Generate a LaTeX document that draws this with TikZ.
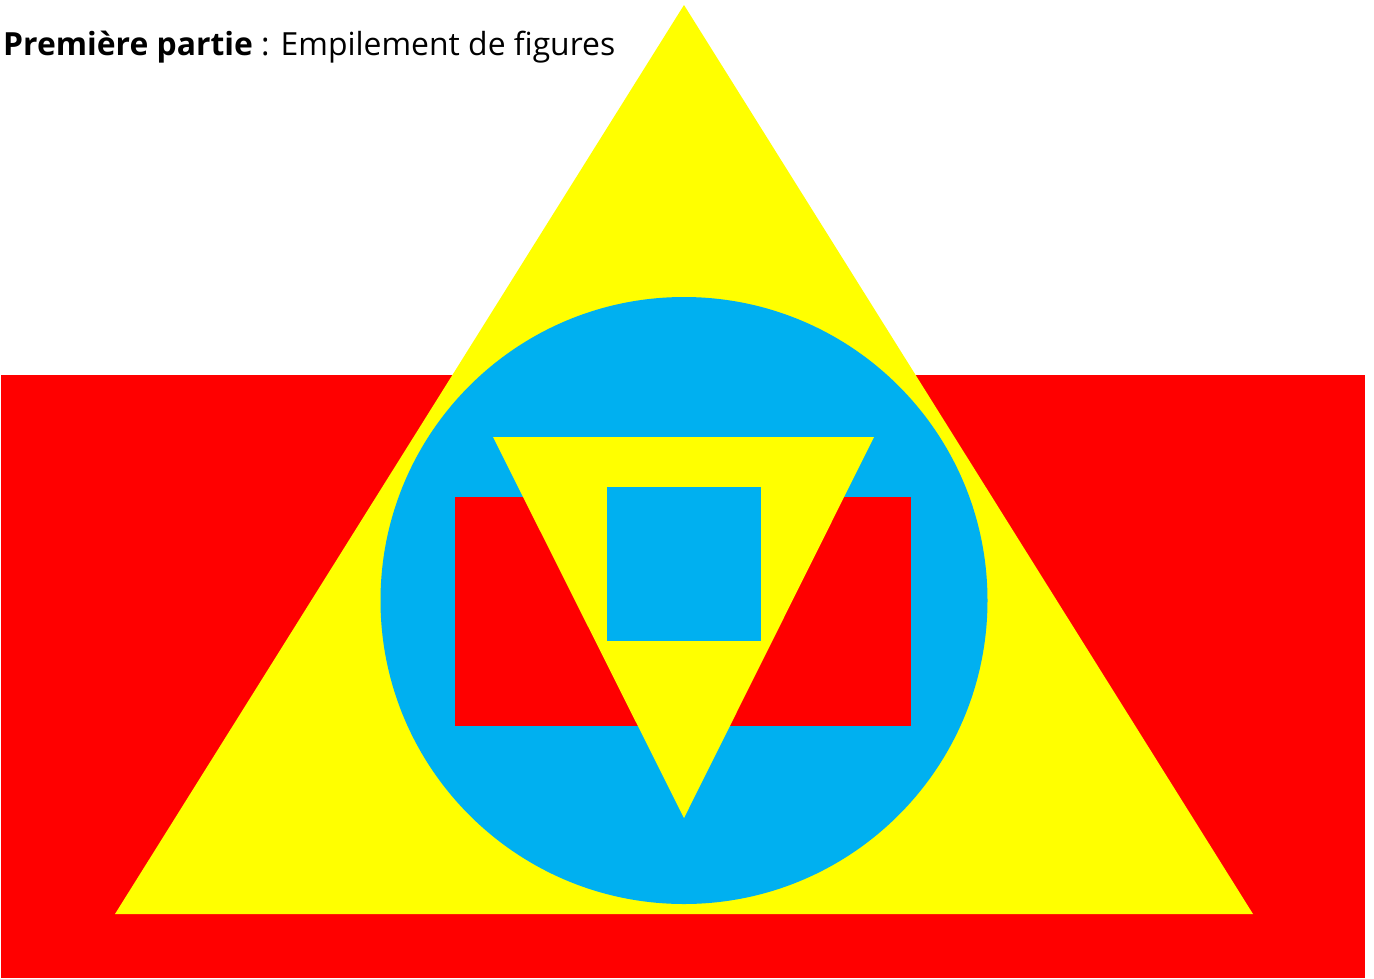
\documentclass[tikz,border=0pt]{standalone}
\usepackage{fontspec}
\setmainfont{Open Sans}
\definecolor{rouge}{HTML}{FF0000}
\definecolor{jaune}{HTML}{FFFF00}
\definecolor{bleu}{HTML}{00B0F0}
\tikzset{shape fill/.style={fill=#1, draw=none}}
\begin{document}
\begin{tikzpicture}[x=1pt,y=-1pt]
\useasboundingbox (0,0) rectangle (1374,978);
\fill[white] (0,0) rectangle (1374,978);
\path[shape fill=rouge] (1,375) rectangle (1365,978);
\path[shape fill=jaune] (684,5) -- (1253,914) -- (115,914) -- cycle;
\path[shape fill=bleu] (684,600.5) circle [radius=303.5];
\path[shape fill=rouge] (455,497) rectangle (911,726);
\path[shape fill=jaune] (493,437) -- (874,437) -- (684,818) -- cycle;
\path[shape fill=bleu] (607,487) rectangle (761,641);
\node[anchor=base west, inner sep=0pt] (titre) at (3,55)
  {\resizebox{612pt}{!}{\fontsize{30pt}{36pt}\selectfont\textbf{Première partie} : Empilement de figures}};
\end{tikzpicture}
\end{document}
